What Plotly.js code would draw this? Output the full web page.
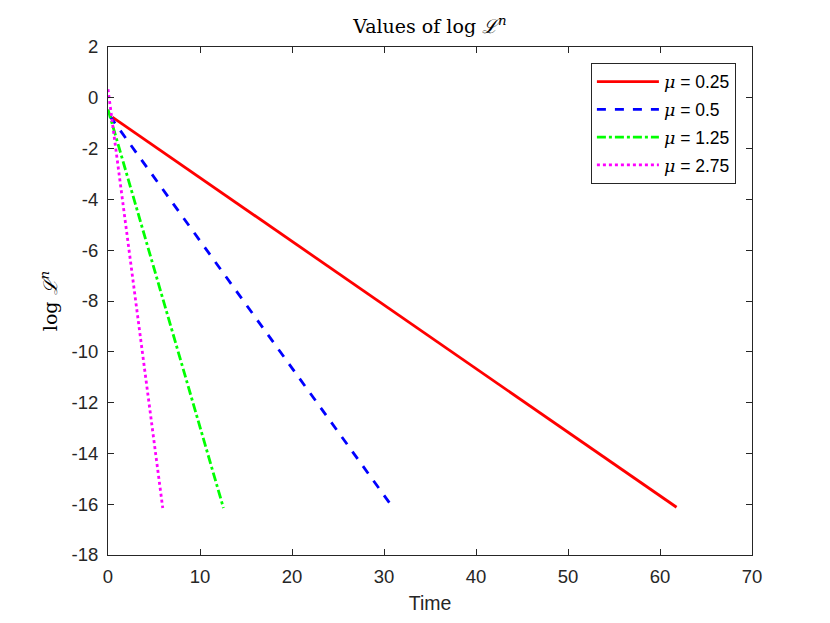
<!DOCTYPE html>
<html>
<head>
<meta charset="utf-8">
<script src="https://cdn.plot.ly/plotly-3.0.1.min.js"></script>
<style>
  html, body { margin: 0; padding: 0; background: #ffffff; }
  #plot { width: 830px; height: 623px; }
</style>
</head>
<body>
<div id="plot"></div>
<script>
// Series: time and log L^n at the first and last step
const mu_labels = ["0.25", "0.5", "1.25", "2.75"];
const time_025 = [0.47, 61.8];
const logL_025 = [-0.76, -16.12];
const time_05 = [0.2, 31.0];
const logL_05 = [-0.72, -16.15];
const time_125 = [0.0, 12.55];
const logL_125 = [-0.46, -16.15];
const time_275 = [0.0, 5.95];
const logL_275 = [0.34, -16.15];

const xticks = [0, 10, 20, 30, 40, 50, 60, 70];
const yticks = [-18, -16, -14, -12, -10, -8, -6, -4, -2, 0, 2];

let series_x = [time_025, time_05, time_125, time_275];
let series_y = [logL_025, logL_05, logL_125, logL_275];
let series_cols = ["#ff0000", "#0000ff", "#00ff00", "#ff00ff"];
let series_dash = ["solid", "dash", "dashdot", "dot"];

let serif = "'DejaVu Serif', 'Liberation Serif', serif";
let sans = "'Liberation Sans', Arial, sans-serif";

let data = series_x.map((x, i) => {
  return({
    x: x,
    y: series_y[i],
    type: 'scatter',
    mode: 'lines',
    legendgroup: 'g' + i,
    name: '<span style="font-family:' + serif + '"><i>μ</i></span> = ' + mu_labels[i],
    line: {
      color: series_cols[i],
      dash: series_dash[i],
      width: 2.8
    }
  });
});

// Shared axis styling (boxed, ticks inside)
let axis_style = {
  showline: true,
  linecolor: '#262626',
  linewidth: 1,
  mirror: 'ticks',
  ticks: 'inside',
  ticklen: 6,
  tickcolor: '#262626',
  showgrid: false,
  zeroline: false,
  ticklabelstandoff: 5,
  tickfont: {family: sans, size: 18.5, color: '#262626'},
  tickmode: 'array'
};

let layout = {
  width: 830,
  height: 623,
  paper_bgcolor: '#ffffff',
  plot_bgcolor: '#ffffff',
  showlegend: true,
  margin: {l: 108, r: 78, t: 47, b: 68},
  title: {
    text: 'Values of log <i>ℒ</i><sup><i>n</i></sup>',
    font: {family: serif, size: 19, color: '#000000'},
    x: 0.518,
    xanchor: 'center',
    y: 0.958,
    yanchor: 'middle'
  },
  xaxis: Object.assign({}, axis_style, {
    range: [0, 70],
    tickvals: xticks,
    ticktext: xticks.map(v => String(v)),
    title: {text: 'Time', font: {family: sans, size: 19.5, color: '#262626'}, standoff: 10}
  }),
  yaxis: Object.assign({}, axis_style, {
    range: [-18, 2],
    tickvals: yticks,
    ticktext: yticks.map(v => String(v)),
    title: {text: 'log <i>ℒ</i><sup><i>n</i></sup>', font: {family: serif, size: 19, color: '#000000'}, standoff: 8}
  }),
  legend: {
    x: 0.975,
    y: 0.969,
    xanchor: 'right',
    yanchor: 'top',
    bgcolor: '#ffffff',
    bordercolor: '#262626',
    borderwidth: 1,
    itemwidth: 62,
    tracegroupgap: 2,
    font: {family: sans, size: 17.5, color: '#000000'}
  }
};

let config = {displayModeBar: false, staticPlot: true};

Plotly.newPlot('plot', data, layout, config);
</script>
</body>
</html>
